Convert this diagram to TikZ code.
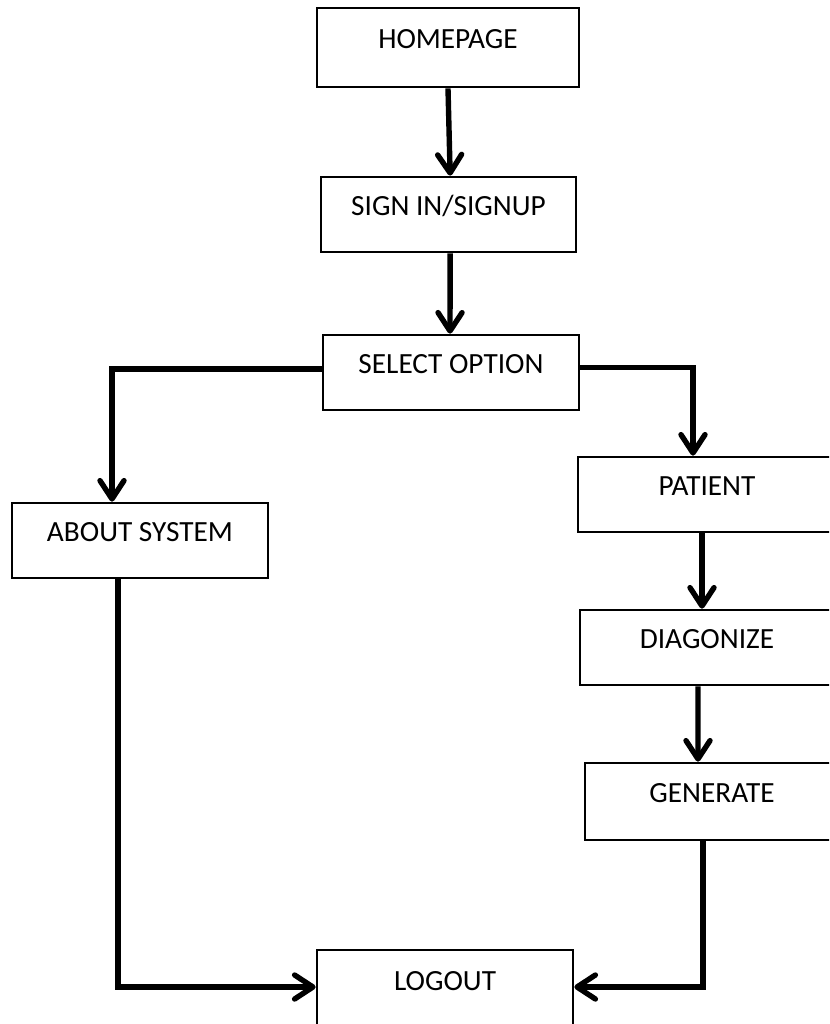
\documentclass[tikz,border=0pt]{standalone}
\usepackage{fontspec}
\setmainfont{Carlito}
\usetikzlibrary{arrows.meta,positioning,calc}

\tikzset{
  stepbox/.style={draw, line width=2.3pt, inner sep=0pt,
    text height=0.66em, text depth=0.5em,
    font=\fontsize{25}{30}\selectfont},
  flow/.style={line width=4.6pt, -{Straight Barb[length=0.55cm,width=0.72cm,round]}}
}

\begin{document}
\begin{tikzpicture}[x=0.03cm, y=-0.03cm]

\useasboundingbox (0,0) rectangle (829,1024);
\clip (0,0) rectangle (829,1024);

% Boxes
\node[stepbox, minimum width=7.86cm, minimum height=2.37cm] (home) at (448, 47.5) {HOMEPAGE};
\node[stepbox, minimum width=7.65cm, minimum height=2.25cm] (sign) at (448.5, 214.5) {SIGN IN/SIGNUP};
\node[stepbox, minimum width=7.68cm, minimum height=2.25cm] (select) at (451, 372.5) {SELECT OPTION};
\node[stepbox, minimum width=7.68cm, minimum height=2.25cm] (about) at (140, 540.5) {ABOUT SYSTEM};
\node[stepbox, minimum width=7.74cm, minimum height=2.25cm] (patient) at (707, 494.5) {PATIENT};
\node[stepbox, minimum width=7.62cm, minimum height=2.25cm] (diag) at (707, 647.5) {DIAGONIZE};
\node[stepbox, minimum width=7.62cm, minimum height=2.31cm] (gen) at (712, 801.5) {GENERATE};
\node[stepbox, minimum width=7.68cm, minimum height=2.4cm] (logout) at (445, 990) {LOGOUT};

% Main line
\draw[flow] (home.south) -- ([xshift=0.05cm]sign.north);
\draw[flow] ([xshift=0.05cm]sign.south) -- ([xshift=-0.03cm]select.north);

% Branches
\draw[flow] ([yshift=0.1cm]select.west) -| ([xshift=-0.84cm]about.north);
\draw[flow] ([yshift=0.15cm]select.east) -| ([xshift=-0.42cm]patient.north);

% Patient side
\draw[flow] ([xshift=-0.15cm]patient.south) -- ([xshift=-0.15cm]diag.north);
\draw[flow] ([xshift=-0.27cm]diag.south) -- ([xshift=-0.42cm]gen.north);

% To logout
\draw[flow] ([xshift=-0.66cm]about.south) |- ([yshift=0.09cm]logout.west);
\draw[flow] ([xshift=-0.27cm]gen.south) |- ([yshift=0.09cm]logout.east);

\end{tikzpicture}
\end{document}
